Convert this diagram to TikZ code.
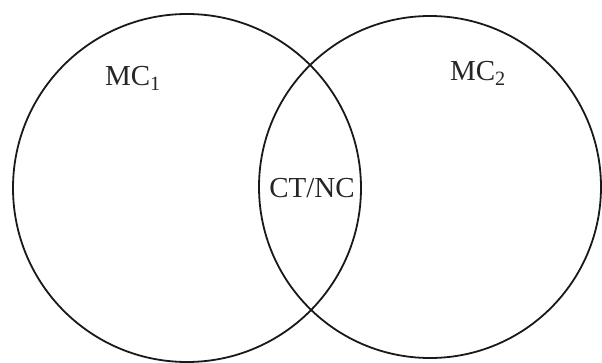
\documentclass[tikz,border=0pt]{standalone}
\usepackage{fontspec}
\setmainfont{Liberation Serif}
\begin{document}
\begin{tikzpicture}[x=1pt,y=1pt,
  setcircle/.style={draw=black!90, line width=1.8pt, circle, inner sep=0pt, outer sep=0pt},
  lab/.style={font=\fontsize{29}{31}\selectfont, text=black!85, inner sep=0pt}]
\useasboundingbox (0,0) rectangle (602,362);
\node[setcircle, minimum size=348pt] (c1) at (187,174) {};
\node[setcircle, minimum size=342pt] (c2) at (430,175) {};
\node[lab] (m1) at (133,284) {MC\textsubscript{1}};
\node[lab] (m2) at (478,289) {MC\textsubscript{2}};
\node[lab] (ct) at (312,174) {CT/NC};
\end{tikzpicture}
\end{document}
